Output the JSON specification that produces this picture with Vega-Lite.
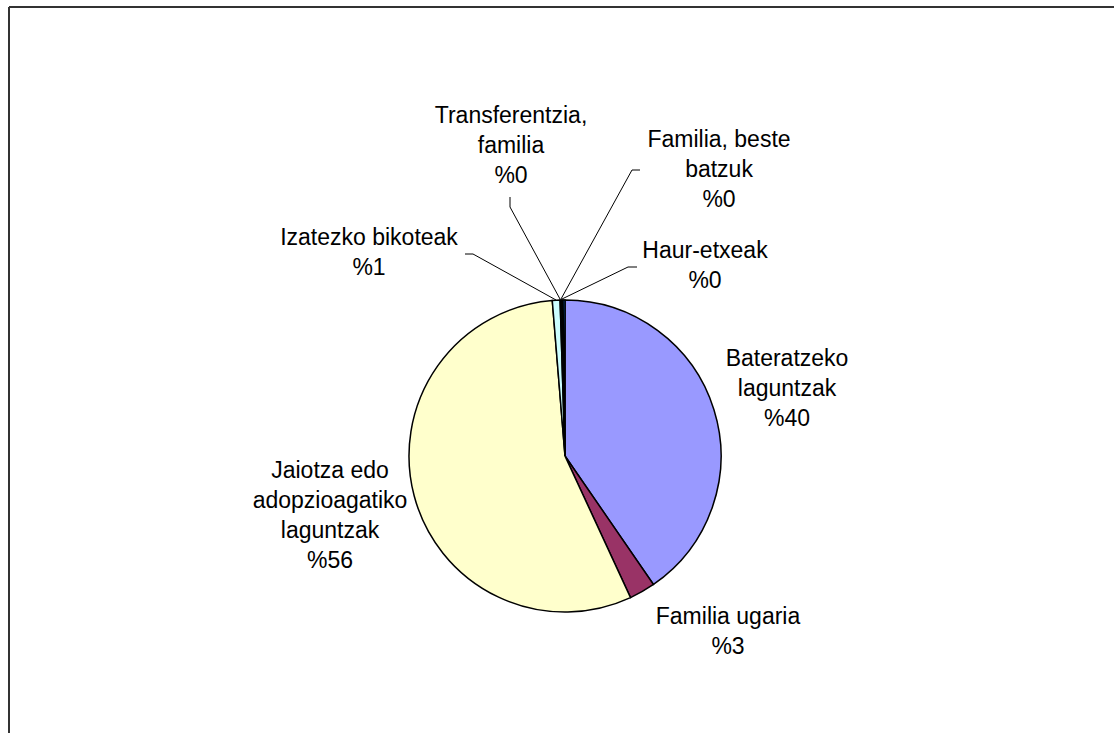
{
  "$schema": "https://vega.github.io/schema/vega-lite/v6.json",
  "width": 1105,
  "height": 726,
  "autosize": "none",
  "padding": {"left": 9, "top": 7, "right": 0, "bottom": 0},
  "background": "white",
  "config": {"view": {"stroke": null}},
  "datasets": {
    "slices": [
      {"idx": 1, "category": "Bateratzeko laguntzak", "share": 40.4},
      {"idx": 2, "category": "Familia ugaria", "share": 2.7},
      {"idx": 3, "category": "Jaiotza edo adopzioagatiko laguntzak", "share": 55.6},
      {"idx": 4, "category": "Izatezko bikoteak", "share": 0.8},
      {"idx": 5, "category": "Transferentzia, familia", "share": 0.15},
      {"idx": 6, "category": "Familia, beste batzuk", "share": 0.15},
      {"idx": 7, "category": "Haur-etxeak", "share": 0.2}
    ],
    "labels": [
      {"label": "Bateratzeko\nlaguntzak\n%40", "lx": 222, "ly": 90},
      {"label": "Familia ugaria\n%3", "lx": 163, "ly": -168},
      {"label": "Jaiotza edo\nadopzioagatiko\nlaguntzak\n%56", "lx": -235, "ly": -22},
      {"label": "Izatezko bikoteak\n%1", "lx": -196, "ly": 211},
      {"label": "Transferentzia,\nfamilia\n%0", "lx": -54, "ly": 333},
      {"label": "Familia, beste\nbatzuk\n%0", "lx": 154, "ly": 309},
      {"label": "Haur-etxeak\n%0", "lx": 140, "ly": 198}
    ],
    "leaders": [
      {"leader": "Izatezko", "step": 1, "px": -100, "py": 202},
      {"leader": "Izatezko", "step": 2, "px": -92, "py": 202},
      {"leader": "Izatezko", "step": 3, "px": -9, "py": 156},
      {"leader": "Transferentzia", "step": 1, "px": -55, "py": 259},
      {"leader": "Transferentzia", "step": 2, "px": -55, "py": 249},
      {"leader": "Transferentzia", "step": 3, "px": -5, "py": 157},
      {"leader": "Familia beste", "step": 1, "px": 75, "py": 286},
      {"leader": "Familia beste", "step": 2, "px": 67, "py": 286},
      {"leader": "Familia beste", "step": 3, "px": -4, "py": 157},
      {"leader": "Haur", "step": 1, "px": 72, "py": 189},
      {"leader": "Haur", "step": 2, "px": 63, "py": 189},
      {"leader": "Haur", "step": 3, "px": -3, "py": 157}
    ]
  },
  "layer": [
    {
      "data": {"values": [{}]},
      "mark": {"type": "rule", "color": "#333333", "strokeWidth": 2},
      "encoding": {
        "x": {"datum": -556, "type": "quantitative", "scale": {"domain": [-556, 549], "nice": false, "zero": false}, "axis": null}
      }
    },
    {
      "data": {"values": [{}]},
      "mark": {"type": "rule", "color": "#333333", "strokeWidth": 2},
      "encoding": {
        "y": {"datum": 449, "type": "quantitative", "scale": {"domain": [-277, 449], "nice": false, "zero": false}, "axis": null}
      }
    },
    {
      "data": {"name": "slices"},
      "mark": {"type": "arc", "outerRadius": 156, "stroke": "#000000", "strokeWidth": 1.5},
      "encoding": {
        "x": {"datum": 0, "type": "quantitative", "scale": {"domain": [-556, 549], "nice": false, "zero": false}, "axis": null},
        "y": {"datum": 0, "type": "quantitative", "scale": {"domain": [-277, 449], "nice": false, "zero": false}, "axis": null},
        "theta": {"field": "share", "type": "quantitative", "stack": true},
        "order": {"field": "idx", "type": "quantitative"},
        "color": {
          "field": "category",
          "type": "nominal",
          "scale": {
            "domain": ["Bateratzeko laguntzak", "Familia ugaria", "Jaiotza edo adopzioagatiko laguntzak", "Izatezko bikoteak", "Transferentzia, familia", "Familia, beste batzuk", "Haur-etxeak"],
            "range": ["#9999FF", "#993366", "#FFFFCC", "#CCFFFF", "#660066", "#FF8080", "#0066CC"]
          },
          "legend": null
        }
      }
    },
    {
      "data": {"name": "leaders"},
      "mark": {"type": "line", "color": "#000000", "strokeWidth": 1},
      "encoding": {
        "x": {"field": "px", "type": "quantitative", "scale": {"domain": [-556, 549], "nice": false, "zero": false}, "axis": null},
        "y": {"field": "py", "type": "quantitative", "scale": {"domain": [-277, 449], "nice": false, "zero": false}, "axis": null},
        "detail": {"field": "leader", "type": "nominal"},
        "order": {"field": "step", "type": "quantitative"}
      }
    },
    {
      "data": {"name": "labels"},
      "mark": {"type": "text", "font": "Liberation Sans", "fontSize": 23, "lineBreak": "\n", "lineHeight": 30, "align": "center", "baseline": "alphabetic", "color": "#000000"},
      "encoding": {
        "x": {"field": "lx", "type": "quantitative", "scale": {"domain": [-556, 549], "nice": false, "zero": false}, "axis": null},
        "y": {"field": "ly", "type": "quantitative", "scale": {"domain": [-277, 449], "nice": false, "zero": false}, "axis": null},
        "text": {"field": "label", "type": "nominal"}
      }
    }
  ]
}
